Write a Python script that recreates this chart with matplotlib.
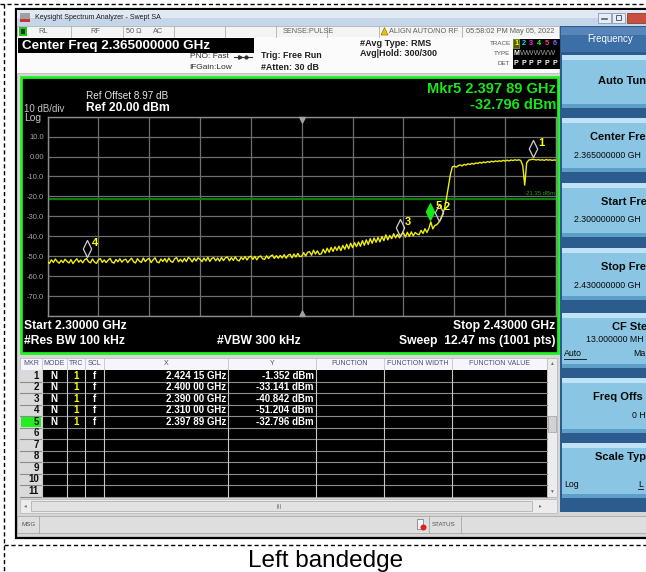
import numpy as np
import matplotlib.pyplot as plt
from matplotlib.patches import Rectangle, Polygon, Circle
from matplotlib.path import Path

plt.rcParams['font.family'] = ['Liberation Sans', 'DejaVu Sans']

W, H = 646, 572

# sweep settings
START_GHZ = 2.30
STOP_GHZ = 2.43
CENTER_GHZ = 2.365
REF_DBM = 20.0
DB_PER_DIV = 10
DISPLAY_LINE_DBM = -21.35

# trace 1, read every 0.5 MHz from 2.300 to 2.430 GHz
trace_dbm = [
    -52.9, -53.6, -51.8, -53.1, -51.4, -52.7, -53.5, -52.0, -53.2, -51.5,
    -52.6, -53.4, -51.7, -53.7, -52.4, -51.3, -53.0, -51.9, -53.3, -51.8,
    -51.2, -52.8, -53.3, -51.4, -52.9, -53.6, -51.8, -51.2, -53.1, -51.9,
    -53.2, -52.0, -51.1, -52.9, -53.5, -51.6, -52.8, -51.3, -53.0, -51.9,
    -51.5, -53.2, -52.0, -51.0, -52.8, -53.4, -51.2, -52.5, -53.1, -50.9,
    -52.7, -51.6, -51.1, -53.2, -51.8, -50.8, -52.9, -53.3, -51.4, -52.6,
    -51.2, -53.0, -50.9, -52.5, -53.1, -51.3, -50.7, -52.8, -51.5, -52.9,
    -51.1, -52.7, -50.6, -51.4, -52.9, -51.0, -52.4, -50.8, -51.6, -52.7,
    -50.9, -52.4, -50.5, -52.6, -51.1, -50.7, -52.3, -50.9, -52.5, -50.6,
    -52.2, -50.8, -50.4, -52.3, -50.7, -52.1, -50.3, -51.9, -52.4, -50.5,
    -51.7, -50.2, -51.9, -50.4, -50.0, -51.6, -50.1, -51.8, -50.3, -49.9,
    -51.3, -51.6, -49.8, -51.2, -50.0, -49.4, -51.1, -49.7, -51.0, -49.6,
    -50.9, -49.2, -51.0, -49.5, -49.0, -50.8, -48.9, -50.4, -48.6, -50.2,
    -50.0, -48.2, -49.9, -48.0, -47.7, -49.5, -47.0, -48.9, -47.3, -49.1,
    -48.8, -46.5, -48.4, -46.0, -48.0, -45.6, -47.6, -45.3, -47.1, -45.0,
    -47.2, -44.6, -46.5, -44.0, -46.3, -43.5, -45.7, -43.2, -45.2, -42.9,
    -45.0, -42.2, -44.5, -41.8, -44.1, -41.2, -43.5, -40.9, -43.0, -40.6,
    -42.8, -40.1, -42.2, -39.3, -41.8, -39.6, -41.2, -38.7, -40.8, -39.0,
    -40.8, -39.0, -38.3, -40.4, -38.0, -40.1, -37.8, -39.8, -38.1, -38.9,
    -39.2, -37.0, -38.6, -36.2, -38.1, -36.0, -32.8, -36.3, -34.6, -34.2,
    -33.1, -31.5, -29.0, -26.0, -21.0, -15.0, -9.0, -5.2, -4.8, -5.3,
    -4.6, -4.2, -4.7, -3.9, -4.3, -3.6, -4.0, -3.4, -3.8, -3.2,
    -3.5, -2.9, -3.3, -2.7, -3.1, -2.5, -2.9, -2.3, -2.7, -2.2,
    -2.5, -2.1, -2.4, -1.9, -2.3, -1.8, -2.2, -1.7, -2.0, -1.6,
    -1.9, -1.6, -2.0, -4.5, -14.3, -3.2, -1.8, -1.6, -1.35, -1.5,
    -1.7, -1.5, -1.8, -1.6, -1.9, -1.5, -1.8, -1.6, -1.9, -1.7,
    -1.8,
]

# marker table
marker_ids = [1, 2, 3, 4, 5]
marker_ghz = [2.42415, 2.40000, 2.39000, 2.31000, 2.39789]
marker_dbm = [-1.352, -33.141, -40.842, -51.204, -32.796]
active_marker = 5

table_cols = ["MKR", "MODE", "TRC", "SCL", "X", "Y",
              "FUNCTION", "FUNCTION WIDTH", "FUNCTION VALUE"]
table_rows = 11

trace_digits = ["1", "2", "3", "4", "5", "6"]
trace_colors = ["#ffff00", "#00e5ff", "#ff2bff", "#22ff22", "#ff4070", "#8a5cff"]

fig = plt.figure(figsize=(W / 100, H / 100), dpi=100)
bg = fig.add_axes([0, 0, 1, 1])
bg.set_xlim(0, W)
bg.set_ylim(H, 0)
bg.axis('off')


def box(x0, y0, x1, y1, fc, ec='none', lw=0.0, z=1):
    bg.add_patch(Rectangle((x0, y0), x1 - x0, y1 - y0, facecolor=fc,
                           edgecolor=ec, linewidth=lw, zorder=z))


def label(x, y, s, size, color='black', ha='left', bold=False, z=6):
    bg.text(x, y, s, fontsize=size, color=color, ha=ha, va='center',
            fontweight='bold' if bold else 'normal', zorder=z)


def hline(x0, x1, y, color, lw=0.6, z=4, ls='-'):
    bg.plot([x0, x1], [y, y], color=color, lw=lw, zorder=z, ls=ls)


def vline(x, y0, y1, color, lw=0.6, z=4, ls='-'):
    bg.plot([x, x], [y0, y1], color=color, lw=lw, zorder=z, ls=ls)


# page frame (dashed) and caption
hline(0, W, 3.5, 'black', lw=1, ls=(0, (3, 2)))
vline(3.5, 3.5, H, 'black', lw=1, ls=(0, (3, 2)))
hline(3.5, W, 545, 'black', lw=1, ls=(0, (3, 2)))
label(326, 561, "Left bandedge", 17.5, 'black', ha='center')

# window
box(16, 9, 648, 538, '#d6d6d6', ec='black', lw=1.6)
box(17, 10, 646, 18, '#dfe8f3', z=2)
box(17, 18, 646, 25.5, '#c6d6e9', z=2)
box(20, 12.5, 30, 22, '#a0a0a0', z=3)
box(20, 18.5, 30, 22, '#cc3333', z=3)
label(35, 17.5, "Keysight Spectrum Analyzer - Swept SA", 5, '#1a1a1a')
box(598, 12.5, 611, 22.5, '#e6edf5', ec='#8a9ab0', lw=0.6, z=3)
box(612, 12.5, 625, 22.5, '#e6edf5', ec='#8a9ab0', lw=0.6, z=3)
box(627, 12.5, 646, 22.5, '#c9503f', ec='#8a4030', lw=0.6, z=3)
hline(602, 607, 19, '#506070', lw=1.2, z=5)
box(616, 15, 621, 20, 'none', ec='#506070', lw=0.7, z=5)

# status row
box(17, 26, 559, 36.5, '#f4f4f4', ec='#a8a8a8', lw=0.5, z=2)
for sx in [71, 123, 174, 225, 276, 327, 379, 462]:
    vline(sx, 26, 36.5, '#b0b0b0')
box(18.5, 27, 27, 35.5, '#1fc41f', z=3)
box(20.5, 29, 25, 33.5, '#1c3a1c', z=4)
status_texts = [(38, "RL"), (90, "RF"), (126, "50 \u03a9"), (153, "AC"),
                (283, "SENSE:PULSE"), (389, "ALIGN AUTO/NO RF"),
                (466, "05:58:02 PM May 05, 2022")]
for sx, s in status_texts:
    label(sx, 31.3, s, 5.3, '#606060')
bg.add_patch(Polygon([[381, 35], [388, 35], [384.5, 27.5]], closed=True,
                     facecolor='#f2c200', edgecolor='#806000', lw=0.4, zorder=5))

# settings area
box(17, 36.5, 559, 74, '#fbfbfb', z=2)
hline(17, 559, 72.5, '#b8b8b8')
box(18, 37.5, 254, 53, 'black', z=3)
label(22, 45.5, "Center Freq 2.365000000 GHz", 9.7, 'white', bold=True)
label(229, 57, "PNO: Fast", 6, '#303030', ha='right')
hline(234, 252, 57, '#303030', lw=0.8)
bg.plot([240], [57], marker='>', ms=2.5, color='#303030', zorder=5)
bg.plot([246], [57], marker='o', ms=2, color='#303030', zorder=5)
label(232, 67.5, "IFGain:Low", 6, '#303030', ha='right')
label(261, 55.5, "Trig: Free Run", 6.4, '#202020', bold=True)
label(261, 67, "#Atten: 30 dB", 6.4, '#202020', bold=True)
label(360, 43.5, "#Avg Type: RMS", 6.6, '#202020', bold=True)
label(360, 54, "Avg|Hold: 300/300", 6.5, '#202020', bold=True)
label(510.5, 43.5, "TRACE", 4.5, '#555555', ha='right')
label(510.5, 53.5, "TYPE", 4.5, '#555555', ha='right')
label(510.5, 63.5, "DET", 4.5, '#555555', ha='right')
box(512.5, 38.5, 559.5, 68.5, 'black', z=3)
box(513.2, 39.2, 519.2, 48, '#4d5c10', ec='#a0b020', lw=0.5, z=4)
trace_x = [516.2, 524, 531.2, 538.6, 546.4, 554.6]
for tx, d, c in zip(trace_x, trace_digits, trace_colors):
    label(tx, 43.7, d, 5.2, c, ha='center', bold=True)
    label(tx, 63.5, "P", 5, 'white', ha='center', bold=True)
label(516.2, 53.5, "M", 5, 'white', ha='center', bold=True)
label(520, 53.5, "WWWWW", 5.5, '#9a9a9a')

# measurement screen (green frame)
box(20.5, 77, 557.5, 352.5, 'black', ec='#1ff01f', lw=2, z=2)
label(86, 95.7, "Ref Offset 8.97 dB", 7.2, '#e6e6e6')
label(86, 108.3, f"Ref {REF_DBM:.2f} dBm", 8.7, 'white', bold=True)
label(24, 109, f"{DB_PER_DIV} dB/div", 7, '#c4c4c4')
label(24, 118, "Log", 7.5, '#c4c4c4')

mk = marker_ids.index(active_marker)
mk_s = f"{marker_ghz[mk]:.5f}"
label(556, 89, f"Mkr{active_marker} {mk_s[:5]} {mk_s[5:]} GHz", 10.5, '#19e619',
      ha='right', bold=True)
label(556, 105, f"{marker_dbm[mk]:.3f} dBm", 10.5, '#19e619', ha='right', bold=True)

label(24, 326, f"Start {START_GHZ:.5f} GHz", 8.7, 'white', bold=True)
label(24, 341, "#Res BW 100 kHz", 8.7, 'white', bold=True)
label(217, 341, "#VBW 300 kHz", 8.7, 'white', bold=True)
label(555.5, 326, f"Stop {STOP_GHZ:.5f} GHz", 8.7, 'white', ha='right', bold=True)
label(555.5, 341, "Sweep  12.47 ms (1001 pts)", 8.7, 'white', ha='right', bold=True)

# marker table
col_x = [20, 41.7, 66.7, 85, 104.3, 228.3, 315.7, 383.7, 451.7, 546.7]
top, row_h = 370, 11.5
bottom = top + table_rows * row_h
box(20, 357.5, 546.7, 369.5, '#f5f5fb', ec='#b4b4c4', lw=0.5, z=2)
for name, a, b in zip(table_cols, col_x[:-1], col_x[1:]):
    label((a + b) / 2, 363.5, name, 5, '#4d4d78', ha='center')
    vline(b, 357.5, 369.5, '#c4c4d0')
box(41.7, top, 546.7, bottom, 'black', z=2)
box(20, top, 41.7, bottom, '#dadada', z=2)
for i in range(table_rows):
    y0 = top + i * row_h
    if i + 1 == active_marker:
        box(20.5, y0 + 0.6, 41.2, y0 + row_h - 0.6, '#22ee22', z=3)
    label(39, y0 + row_h / 2, str(i + 1), 7, '#101010', ha='right', bold=True)
    hline(20, 546.7, y0 + row_h, '#8c8c8c', lw=0.8)
for b in col_x[1:-1]:
    vline(b, top, bottom, '#c8c8c8', lw=0.8)
for mid, f, d in zip(marker_ids, marker_ghz, marker_dbm):
    yc = top + (mid - 1) * row_h + row_h / 2
    label(54.2, yc, "N", 7, 'white', ha='center', bold=True)
    label(75.8, yc, "1", 7, '#ffff00', ha='center', bold=True)
    label(94.6, yc, "f", 7, 'white', ha='center', bold=True)
    s = f"{f:.5f}"
    label(226, yc, f"{s[:5]} {s[5:]} GHz", 7, 'white', ha='right', bold=True)
    label(313.5, yc, f"{d:.3f} dBm", 7, 'white', ha='right', bold=True)

# scroll bars
box(546.7, 357.5, 556.7, bottom, '#ececec', ec='#b0b0b0', lw=0.5, z=2)
label(551.7, 363.5, "\u25b2", 3.5, '#707070', ha='center')
label(551.7, bottom - 5, "\u25bc", 3.5, '#707070', ha='center')
box(548, 416, 555.5, 432, '#d2d2d2', ec='#a0a0a0', lw=0.5, z=3)
box(20, 499, 556.7, 513, '#ececec', ec='#b4b4b4', lw=0.5, z=2)
box(31, 501, 532, 511, '#e2e2e2', ec='#a8a8a8', lw=0.5, z=3)
for gx in [276.5, 278, 279.5]:
    vline(gx, 504, 508, '#808080', lw=0.5, z=5)
label(25.5, 506, "\u25c2", 4, '#707070', ha='center')
label(540, 506, "\u25b8", 4, '#707070', ha='center')

# message bar
box(17, 516, 646, 533, '#dedede', ec='#a0a0a0', lw=0.5, z=2)
label(21, 524.5, "MSG", 4.5, '#505050')
vline(39, 516, 533, '#a8a8a8')
vline(428.5, 516, 533, '#a8a8a8')
vline(461, 516, 533, '#a8a8a8')
box(417, 519, 423, 529, '#f4f4f4', ec='#707070', lw=0.5, z=3)
bg.add_patch(Circle((423.5, 527.5), 3, facecolor='#e02020', edgecolor='none', zorder=5))
label(432, 524.5, "STATUS", 4.5, '#505050')

# softkey panel
box(560, 26, 646, 512, '#2b5c8d', z=2)
box(561, 27, 646, 52, '#3b6fa6', z=3)
box(561, 27, 646, 35, '#5886bb', z=3)
label(610, 39.5, "Frequency", 7, 'white', ha='center')
key_spans = [(55, 108), (118, 172), (183, 237), (248, 300),
             (313, 368), (378, 433), (443, 498)]
for y0, y1 in key_spans:
    box(562, y0, 646, y1, '#8ac5e3', z=3)
    box(562, y0, 646, y0 + 5, '#bfe3f4', z=3)
    box(562, y1 - 4, 646, y1, '#5d9fc6', z=3)
label(598, 81.5, "Auto Tun", 8, '#0a0a0a', bold=True)
label(590, 136.7, "Center Fre", 8, '#0a0a0a', bold=True)
label(574.3, 155.5, "2.365000000 GH", 6.3, '#0a0a0a')
label(601, 201.7, "Start Fre", 8, '#0a0a0a', bold=True)
label(574.3, 220, "2.300000000 GH", 6.3, '#0a0a0a')
label(601, 266.7, "Stop Fre", 8, '#0a0a0a', bold=True)
label(574.3, 285, "2.430000000 GH", 6.3, '#0a0a0a')
label(612, 327, "CF Ste", 8, '#0a0a0a', bold=True)
label(585.7, 340, "13.000000 MH", 6.3, '#0a0a0a')
label(564, 354, "Auto", 6.3, '#0a0a0a')
hline(564, 585.5, 358.5, '#0a0a0a', lw=0.6, z=5)
label(633, 354, "Ma", 6.3, '#0a0a0a')
label(593, 397.3, "Freq Offs", 8, '#0a0a0a', bold=True)
label(632, 415, "0 H", 6.3, '#0a0a0a')
label(595, 456.7, "Scale Typ", 8, '#0a0a0a', bold=True)
label(564, 484.3, "Log", 6.3, '#0a0a0a')
label(638, 484.3, "L", 6.3, '#0a0a0a')
hline(638, 643, 488.5, '#0a0a0a', lw=0.6, z=5)

# graticule and trace
ax = fig.add_axes([47.5 / W, 1 - 316 / H, 508.5 / W, 199.3 / H])
ax.set_facecolor('black')
freq = np.linspace(START_GHZ, STOP_GHZ, len(trace_dbm))
ax.set_xlim(START_GHZ, STOP_GHZ)
ax.set_ylim(REF_DBM - 10 * DB_PER_DIV, REF_DBM)
ax.set_xticks(np.linspace(START_GHZ, STOP_GHZ, 11))
levels = np.arange(REF_DBM - 10 * DB_PER_DIV, REF_DBM + 1, DB_PER_DIV)
ax.set_yticks(levels)
ax.set_yticklabels(['' if v in (levels[0], levels[-1])
                    else (f"{v:.2f}" if abs(v) < 10 else f"{v:.1f}") for v in levels])
ax.set_xticklabels([])
ax.tick_params(length=0, labelsize=5.5, labelcolor='#a6a6a6', pad=2.5)
ax.grid(color='#6e6e6e', lw=0.9)
ax.set_axisbelow(True)
for sp in ax.spines.values():
    sp.set_color('#8c8c8c')
    sp.set_linewidth(1)

ax.axhline(DISPLAY_LINE_DBM, color='#0b7d0b', lw=1.6, zorder=2)
ax.annotate(f"{DISPLAY_LINE_DBM:.2f} dBm", xy=(1, DISPLAY_LINE_DBM),
            xycoords=('axes fraction', 'data'), xytext=(-1, 2.5),
            textcoords='offset points', ha='right', va='bottom',
            fontsize=4.3, color='#1e9e1e')

ax.plot(freq, trace_dbm, color='#eeee10', lw=1.0, zorder=3)

diamond = Path([(0, 0.1), (0.22, 0.55), (0, 1.0), (-0.22, 0.55), (0, 0.1)],
               [Path.MOVETO, Path.LINETO, Path.LINETO, Path.LINETO, Path.CLOSEPOLY])
tri_down = Path([(-0.5, 0), (0.5, 0), (0, -1), (-0.5, 0)],
                [Path.MOVETO, Path.LINETO, Path.LINETO, Path.CLOSEPOLY])
tri_up = Path([(-0.5, 0), (0.5, 0), (0, 1), (-0.5, 0)],
              [Path.MOVETO, Path.LINETO, Path.LINETO, Path.CLOSEPOLY])

order = [i for i in range(len(marker_ids)) if marker_ids[i] != active_marker] + [mk]
for i in order:
    f, d, mid = marker_ghz[i], marker_dbm[i], marker_ids[i]
    if mid == active_marker:
        ax.plot([f], [d], marker=diamond, ms=27.4, mfc='#19e619', mec='#19e619',
                mew=0.8, ls='none', zorder=5, clip_on=False)
    else:
        ax.plot([f], [d], marker=diamond, ms=27.4, mfc='none', mec='#cfcfcf',
                mew=0.9, ls='none', zorder=4, clip_on=False)
    ax.annotate(str(mid), (f, d), xytext=(5.8, 11.5), textcoords='offset points',
                color='#ffff00', fontsize=8, fontweight='bold',
                ha='center', va='center', zorder=6)

ax.plot([CENTER_GHZ], [REF_DBM], marker=tri_down, ms=8, color='#a0a0a0',
        ls='none', clip_on=False, zorder=5)
ax.plot([CENTER_GHZ], [REF_DBM - 10 * DB_PER_DIV], marker=tri_up, ms=8,
        color='#a0a0a0', ls='none', clip_on=False, zorder=5)

fig.savefig('out.png', dpi=100)
